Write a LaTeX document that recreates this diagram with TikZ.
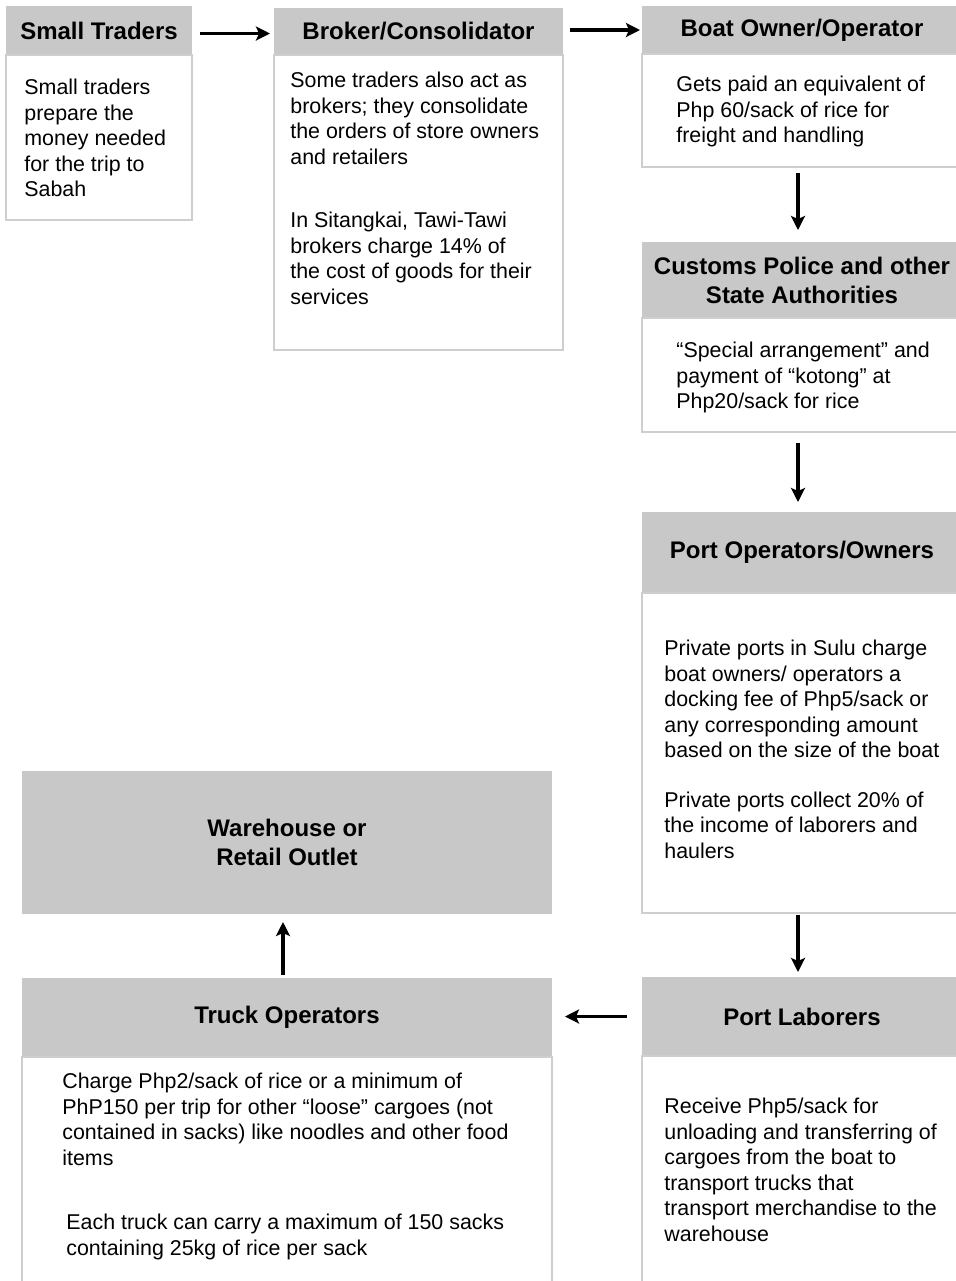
\documentclass[tikz,border=0pt]{standalone}
\usepackage{fontspec}
\setmainfont{Liberation Sans}
\usetikzlibrary{arrows.meta, positioning}
\definecolor{headGray}{RGB}{200,200,200}
\definecolor{lineGray}{RGB}{206,206,206}

\begin{document}
\begin{tikzpicture}[x=0.5pt, y=-0.5pt,
    head/.style={fill=headGray, anchor=north west, inner sep=0pt, outer sep=0pt, align=center,
        font=\bfseries\fontsize{12}{14.5}\selectfont},
    panel/.style={draw=lineGray, line width=1pt, fill=white, inner sep=0pt, outer sep=0pt},
    note/.style={anchor=north west, inner sep=0pt, align=left, font=\fontsize{10.7}{12.75}\selectfont},
    flow/.style={line width=1.6pt, -{Stealth[length=7pt, width=7pt, inset=1.5pt]}}]
    \useasboundingbox (0,0) rectangle (956,1281);
    \clip (0,0) rectangle (956,1281);

    % Top row
    \node[head, minimum width=93pt, minimum height=24.5pt] (traders) at (6,6) {Small Traders};
    \node[panel, minimum width=93pt, minimum height=82.5pt, below=0pt of traders] (tradersBody) {};
    \node[note] (tradersNote) at (24,79) {Small traders\\prepare the\\money needed\\for the trip to\\Sabah};

    \node[head, minimum width=144.5pt, minimum height=23.5pt] (broker) at (274,8) {Broker/Consolidator};
    \node[panel, minimum width=144.5pt, minimum height=147.5pt, below=0pt of broker] (brokerBody) {};
    \node[note] (brokerNote) at (290,72) {Some traders also act as\\brokers; they consolidate\\the orders of store owners\\and retailers\\[19pt]In Sitangkai, Tawi-Tawi\\brokers charge 14\% of\\the cost of goods for their\\services};

    \node[head, minimum width=160pt, minimum height=24pt] (boat) at (642,6) {Boat Owner/Operator};
    \node[panel, minimum width=160pt, minimum height=56.5pt, below=0pt of boat] (boatBody) {};
    \node[note] (boatNote) at (676,76) {Gets paid an equivalent of\\Php 60/sack of rice for\\freight and handling};

    % Right column
    \node[head, minimum width=160pt, minimum height=38pt] (customs) at (642,242) {Customs Police and other\\State Authorities};
    \node[panel, minimum width=160pt, minimum height=57pt, below=0pt of customs] (customsBody) {};
    \node[note] (customsNote) at (676,342) {“Special arrangement” and\\payment of “kotong” at\\Php20/sack for rice};

    \node[head, minimum width=160pt, minimum height=40.5pt] (ports) at (642,512) {Port Operators/Owners};
    \node[panel, minimum width=160pt, minimum height=160pt, below=0pt of ports] (portsBody) {};
    \node[note] (portsNote) at (664,640) {Private ports in Sulu charge\\boat owners/ operators a\\docking fee of Php5/sack or\\any corresponding amount\\based on the size of the boat\\[12pt]Private ports collect 20\% of\\the income of laborers and\\haulers};

    \node[head, minimum width=160pt, minimum height=39.5pt] (laborers) at (642,977) {Port Laborers};
    \node[panel, minimum width=160pt, minimum height=119.5pt, below=0pt of laborers] (laborersBody) {};
    \node[note] (laborersNote) at (664,1098) {Receive Php5/sack for\\unloading and transferring of\\cargoes from the boat to\\transport trucks that\\transport merchandise to the\\warehouse};

    % Bottom left
    \node[head, minimum width=265pt, minimum height=39.5pt] (truck) at (22,978) {Truck Operators};
    \node[panel, minimum width=265pt, minimum height=119pt, below=0pt of truck] (truckBody) {};
    \node[note] (truckNoteA) at (62,1073) {Charge Php2/sack of rice or a minimum of\\PhP150 per trip for other “loose” cargoes (not\\contained in sacks) like noodles and other food\\items};
    \node[note] (truckNoteB) at (66,1214) {Each truck can carry a maximum of 150 sacks\\containing 25kg of rice per sack};

    \node[head, minimum width=265pt, minimum height=71.5pt] (warehouse) at (22,771) {Warehouse or\\Retail Outlet};

    % Flow
    \draw[flow, shorten <=4pt, shorten >=2pt] ([yshift=-1.5pt]traders.east) -- ([yshift=-1.5pt]traders.east -| broker.west);
    \draw[flow, shorten <=3.5pt, shorten >=1pt] (broker.east |- boat.west) -- (boat.west);
    \draw[flow, shorten <=3pt, shorten >=6pt] ([xshift=-2pt]boatBody.south) -- ([xshift=-2pt]customs.north);
    \draw[flow, shorten <=5.5pt, shorten >=5pt] ([xshift=-2pt]customsBody.south) -- ([xshift=-2pt]ports.north);
    \draw[flow, shorten <=1pt, shorten >=2.5pt] ([xshift=-2pt]portsBody.south) -- ([xshift=-2pt]laborers.north);
    \draw[flow, shorten <=7.5pt, shorten >=6.5pt] (laborers.west) -- (laborers.west -| truck.east);
    \draw[flow, shorten <=1.5pt, shorten >=4pt] ([xshift=-2pt]truck.north) -- ([xshift=-2pt]warehouse.south);
\end{tikzpicture}
\end{document}
